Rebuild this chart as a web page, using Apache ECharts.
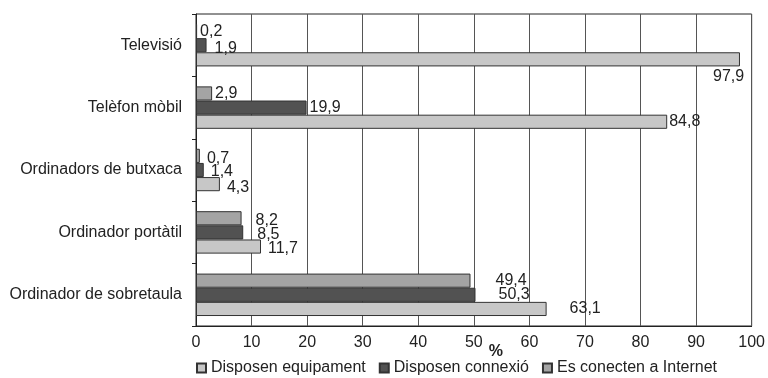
<!DOCTYPE html>
<html>
<head>
<meta charset="utf-8">
<script src="https://cdn.jsdelivr.net/npm/echarts@6/dist/echarts.min.js"></script>
<style>
html,body{margin:0;padding:0;background:#fff;}
#chart{width:768px;height:378px;}
</style>
</head>
<body>
<div id="chart"></div>
<script>
// Data (categories listed bottom-to-top as ECharts draws a category y axis)
var categories = ['Ordinador de sobretaula', 'Ordinador portàtil', 'Ordinadors de butxaca', 'Telèfon mòbil', 'Televisió'];
var seriesNames = ['Disposen equipament', 'Disposen connexió', 'Es conecten a Internet'];
var equipament = [63.1, 11.7, 4.3, 84.8, 97.9];
var connexio = [50.3, 8.5, 1.4, 19.9, 1.9];
var internet = [49.4, 8.2, 0.7, 2.9, 0.2];
var xTicks = [0, 10, 20, 30, 40, 50, 60, 70, 80, 90, 100];

// Styling (label nudges per series / category)
var labelNudge = [
  [[20, 0], [4, 2], [4, 3], [-1, 0], [-30, 17]],
  [[20, 0], [11, 2], [4, 2], [0, 0], [5, 3]],
  [[22, 0], [11, 2], [4, 3], [0, 0], [0, 1]]
];
var colors = ['#c7c7c7', '#525252', '#a4a4a4'];
var FONT = '"Liberation Sans", Arial, Helvetica, sans-serif';

function fmt(v) { return String(v).replace('.', ','); }

function makeSeries(idx, values) {
  return {
    name: seriesNames[idx],
    type: 'bar',
    barGap: '0%',
    barCategoryGap: '32%',
    itemStyle: { color: colors[idx], borderColor: '#333', borderWidth: 1 },
    label: {
      show: true, position: 'right', distance: 3,
      fontFamily: FONT, fontSize: 16, color: '#222',
      formatter: function (p) { return fmt(p.value); }
    },
    data: values.map(function (v, i) {
      return { value: v, label: { offset: labelNudge[idx][i] } };
    })
  };
}

var chart = echarts.init(document.getElementById('chart'), null, { renderer: 'canvas' });
chart.setOption({
  animation: false,
  textStyle: { fontFamily: FONT },
  grid: { left: 196, right: 11, top: 14, bottom: 52, show: true, borderColor: '#222', borderWidth: 1, containLabel: false },
  legend: {
    left: 191, top: 355,
    itemWidth: 9, itemHeight: 9, itemGap: 13, icon: 'rect',
    textStyle: { fontFamily: FONT, fontSize: 16, color: '#222' },
    data: seriesNames
  },
  xAxis: {
    type: 'value', min: xTicks[0], max: xTicks[xTicks.length - 1], interval: 10,
    name: '%', nameLocation: 'middle', nameGap: 18, nameMoveOverlap: false,
    nameTextStyle: { fontFamily: FONT, fontSize: 16, fontWeight: 'bold', color: '#222', padding: [0, 0, 0, 44] },
    axisLine: { show: true, lineStyle: { color: '#222', width: 1 } },
    axisTick: { show: false },
    axisLabel: { fontFamily: FONT, fontSize: 16, color: '#222', margin: 9 },
    splitLine: { show: true, lineStyle: { color: '#555', width: 1 } }
  },
  yAxis: {
    type: 'category', data: categories,
    axisLine: { show: true, lineStyle: { color: '#222', width: 1 } },
    axisTick: { show: true, length: 4, lineStyle: { color: '#222' } },
    axisLabel: { fontFamily: FONT, fontSize: 16, color: '#222', margin: 14 },
    splitLine: { show: false }
  },
  // drawn top-to-bottom within each band: Internet, connexió, equipament
  series: [
    makeSeries(2, internet),
    makeSeries(1, connexio),
    makeSeries(0, equipament)
  ]
});
</script>
</body>
</html>
